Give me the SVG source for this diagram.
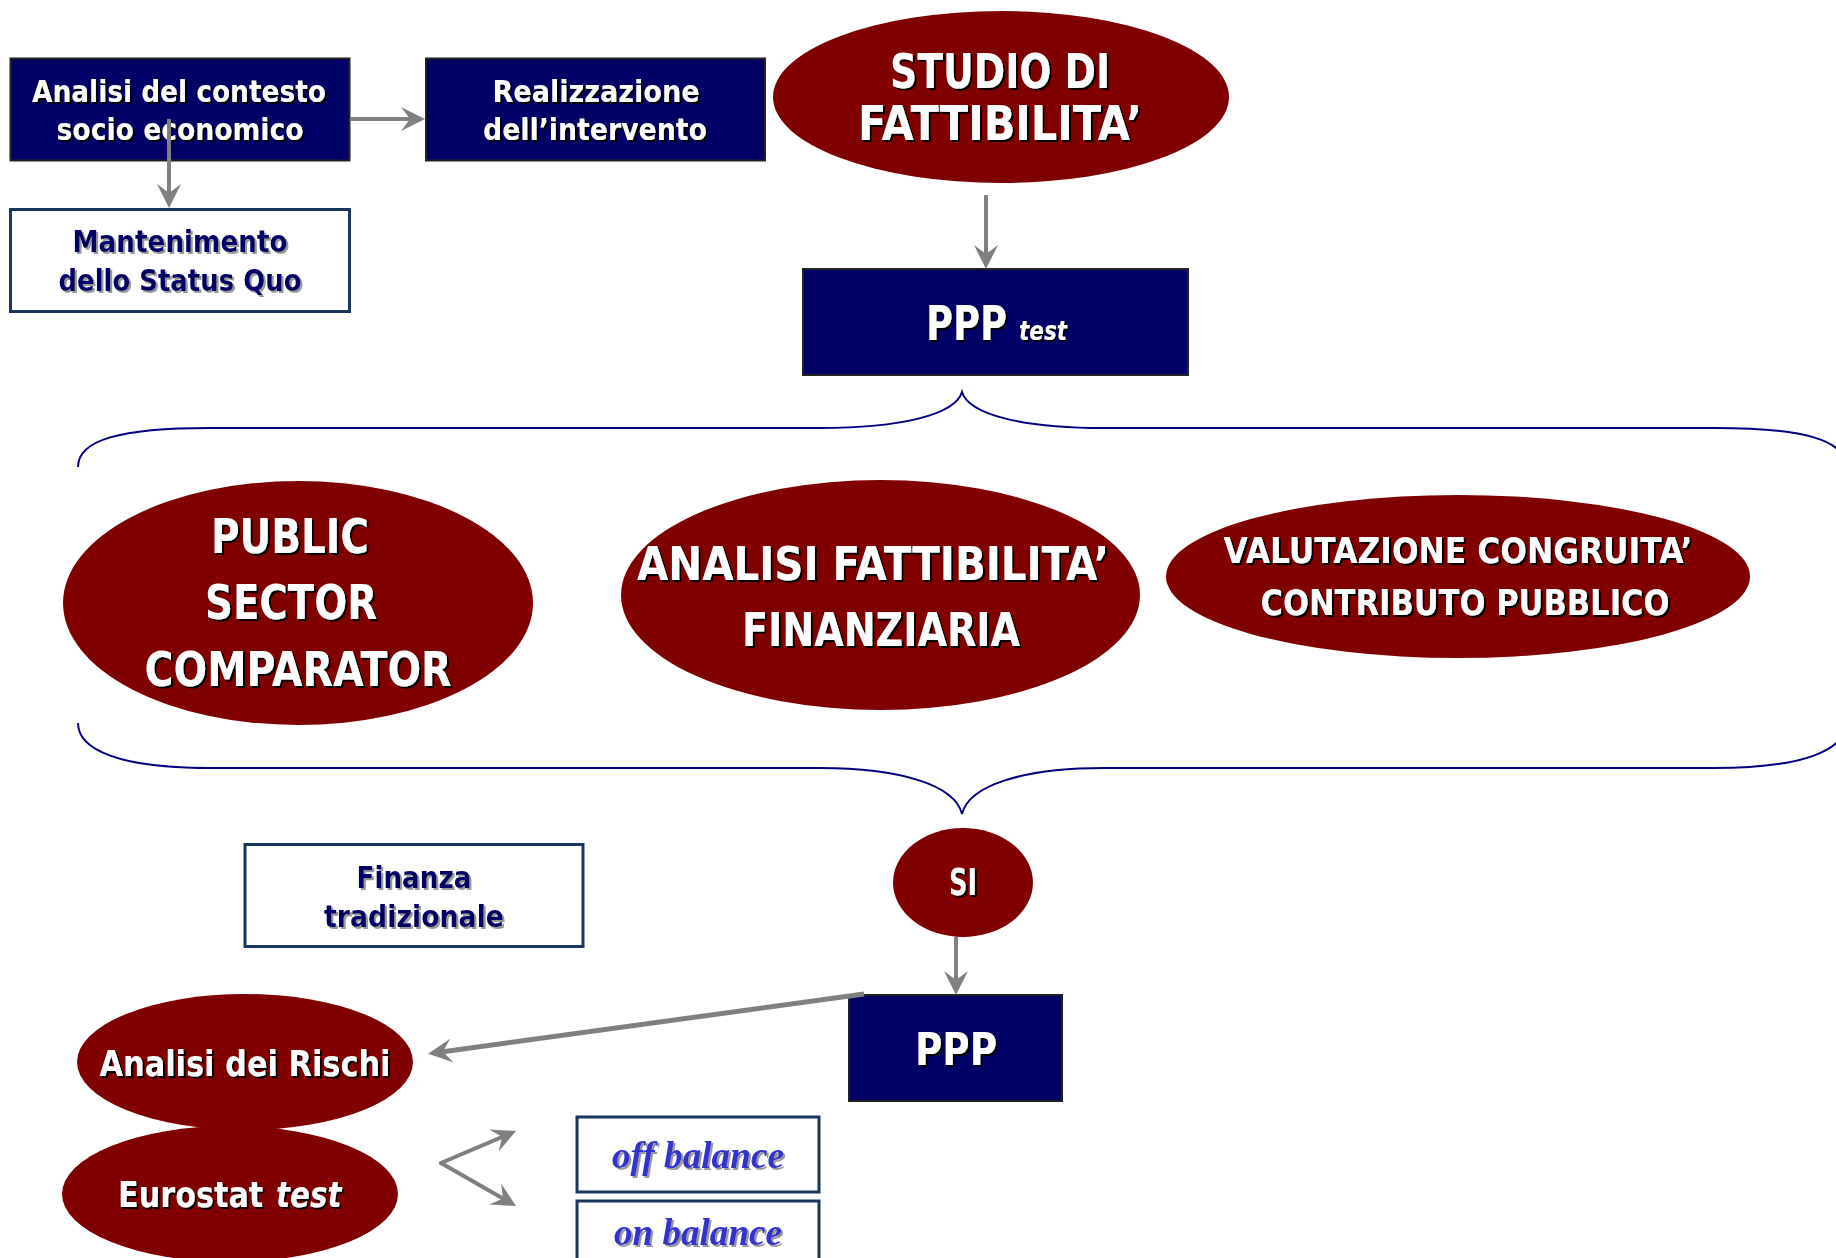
<svg xmlns="http://www.w3.org/2000/svg" width="1836" height="1258" viewBox="0 0 1836 1258">
<style>
.nb{fill:#000066;stroke:#222;stroke-width:2}
.wb{fill:#fff;stroke:#17375E;stroke-width:3}
.el{fill:#800000}
.wt{font-family:"DejaVu Sans","Liberation Sans",sans-serif;font-weight:bold;fill:#fff;text-anchor:middle;filter:url(#sh)}
.nt{font-family:"DejaVu Sans","Liberation Sans",sans-serif;font-weight:bold;fill:#000066;text-anchor:middle;filter:url(#shg)}
.bt{font-family:"Liberation Serif",serif;font-weight:bold;font-style:italic;fill:#3333CC;text-anchor:middle;filter:url(#shg)}
.ar{stroke:#808080;stroke-width:4;fill:none;marker-end:url(#ah)}
.br{stroke:#000080;stroke-width:2;fill:none}
</style>
<defs>
<filter id="sh" x="-10%" y="-20%" width="120%" height="140%"><feDropShadow dx="2" dy="2" stdDeviation="0.3" flood-color="#000" flood-opacity="1"/></filter>
<filter id="shg" x="-10%" y="-20%" width="120%" height="140%"><feDropShadow dx="2" dy="2" stdDeviation="0.4" flood-color="#999" flood-opacity="1"/></filter>
<marker id="ah" markerUnits="userSpaceOnUse" viewBox="0 0 24 24" markerWidth="24" markerHeight="24" refX="18" refY="12" orient="auto"><path d="M0,0 L24,12 L0,24 L9,12 z" fill="#808080"/></marker>
</defs>

<g id="braces">
<path class="br" d="M78,467 C78,440 120,428 210,428 L820,428 C900,428 955,415 962,392 C969,415 1024,428 1104,428 L1714,428 C1804,428 1846,440 1846,467"/>
<path class="br" d="M78,723 C78,750 120,768 210,768 L820,768 C900,768 955,785 962,814 C969,785 1024,768 1104,768 L1714,768 C1804,768 1846,750 1846,723"/>
</g>

<g id="analisi-contesto">
<rect class="nb" x="10.5" y="58.5" width="339" height="102"/>
<text class="wt" font-size="30"><tspan x="179" y="102" textLength="294" lengthAdjust="spacingAndGlyphs">Analisi del contesto</tspan><tspan x="180" y="140" textLength="247" lengthAdjust="spacingAndGlyphs">socio economico</tspan></text>
</g>

<g id="realizzazione">
<rect class="nb" x="426" y="58.5" width="339" height="102"/>
<text class="wt" font-size="30"><tspan x="596" y="102" textLength="207" lengthAdjust="spacingAndGlyphs">Realizzazione</tspan><tspan x="595" y="140" textLength="224" lengthAdjust="spacingAndGlyphs">dell’intervento</tspan></text>
</g>

<g id="mantenimento">
<rect class="wb" x="10.5" y="209.5" width="339" height="102"/>
<text class="nt" font-size="30"><tspan x="180" y="252" textLength="215" lengthAdjust="spacingAndGlyphs">Mantenimento</tspan><tspan x="180" y="291" textLength="243" lengthAdjust="spacingAndGlyphs">dello Status Quo</tspan></text>
</g>

<g id="studio">
<ellipse class="el" cx="1001" cy="97" rx="228" ry="86"/>
<text class="wt" font-size="48"><tspan x="1000" y="88" textLength="220" lengthAdjust="spacingAndGlyphs">STUDIO DI</tspan><tspan x="1000" y="140" textLength="284" lengthAdjust="spacingAndGlyphs">FATTIBILITA’</tspan></text>
</g>

<g id="ppp-test">
<rect class="nb" x="803" y="269" width="385" height="106"/>
<text class="wt" style="text-anchor:start" transform="translate(926,340) scale(0.77,1)" x="0" y="0" font-size="48" textLength="105" lengthAdjust="spacingAndGlyphs">PPP</text>
<text class="wt" style="text-anchor:start" transform="translate(1019,340) scale(0.83,1)" x="0" y="0" font-size="26" font-style="italic" textLength="58" lengthAdjust="spacingAndGlyphs">test</text>
</g>

<g id="psc">
<ellipse class="el" cx="298" cy="603" rx="235" ry="122"/>
<text class="wt" font-size="48"><tspan x="290" y="553" textLength="158" lengthAdjust="spacingAndGlyphs">PUBLIC</tspan><tspan x="291" y="619" textLength="172" lengthAdjust="spacingAndGlyphs">SECTOR</tspan><tspan x="298" y="686" textLength="307" lengthAdjust="spacingAndGlyphs">COMPARATOR</tspan></text>
</g>

<g id="analisi-fattibilita">
<ellipse class="el" cx="880.5" cy="595" rx="259.5" ry="115"/>
<text class="wt" font-size="46"><tspan x="873" y="580" textLength="472" lengthAdjust="spacingAndGlyphs">ANALISI FATTIBILITA’</tspan><tspan x="881" y="646" textLength="278" lengthAdjust="spacingAndGlyphs">FINANZIARIA</tspan></text>
</g>

<g id="valutazione">
<ellipse class="el" cx="1458" cy="576.5" rx="292" ry="81.5"/>
<text class="wt" font-size="36"><tspan x="1458" y="563" textLength="469" lengthAdjust="spacingAndGlyphs">VALUTAZIONE CONGRUITA’</tspan><tspan x="1465" y="615" textLength="409" lengthAdjust="spacingAndGlyphs">CONTRIBUTO PUBBLICO</tspan></text>
</g>

<g id="finanza">
<rect class="wb" x="245" y="844.5" width="338" height="102"/>
<text class="nt" font-size="30"><tspan x="414" y="888" textLength="115" lengthAdjust="spacingAndGlyphs">Finanza</tspan><tspan x="414" y="927" textLength="180" lengthAdjust="spacingAndGlyphs">tradizionale</tspan></text>
</g>

<g id="si">
<ellipse class="el" cx="963" cy="882.5" rx="70" ry="54.5"/>
<text class="wt" font-size="37" x="963" y="895" textLength="28" lengthAdjust="spacingAndGlyphs">SI</text>
</g>

<g id="ppp">
<rect class="nb" x="849" y="995" width="213" height="106"/>
<text class="wt" font-size="44" x="956" y="1065" textLength="82" lengthAdjust="spacingAndGlyphs">PPP</text>
</g>

<g id="rischi">
<ellipse class="el" cx="245" cy="1062" rx="168" ry="68"/>
<text class="wt" font-size="36" x="245" y="1076" textLength="291" lengthAdjust="spacingAndGlyphs">Analisi dei Rischi</text>
</g>

<g id="eurostat">
<ellipse class="el" cx="230" cy="1194" rx="168" ry="68"/>
<text class="wt" style="text-anchor:start" transform="translate(118,1207) scale(0.84,1)" x="0" y="0" font-size="36" textLength="173" lengthAdjust="spacingAndGlyphs">Eurostat</text>
<text class="wt" style="text-anchor:start" transform="translate(276,1207) scale(0.82,1)" x="0" y="0" font-size="36" font-style="italic" textLength="80" lengthAdjust="spacingAndGlyphs">test</text>
</g>

<g id="off-balance">
<rect class="wb" x="577" y="1117" width="242" height="75"/>
<text class="bt" font-size="37" x="698" y="1168" textLength="172" lengthAdjust="spacingAndGlyphs">off balance</text>
</g>

<g id="on-balance">
<rect class="wb" x="577" y="1201" width="242" height="75"/>
<text class="bt" font-size="37" x="698" y="1245" textLength="168" lengthAdjust="spacingAndGlyphs">on balance</text>
</g>

<g id="connectors">
<line class="ar" x1="350" y1="119" x2="419" y2="119"/>
<line class="ar" x1="169" y1="119" x2="169" y2="202"/>
<line class="ar" x1="986" y1="195" x2="986" y2="263"/>
<line class="ar" x1="956" y1="937" x2="956" y2="989"/>
<line class="ar" style="stroke-width:5" x1="864" y1="994" x2="434" y2="1053"/>
<line class="ar" style="stroke-linecap:round" x1="441" y1="1163" x2="510.5" y2="1133.4"/>
<line class="ar" style="stroke-linecap:round" x1="441" y1="1163" x2="510.8" y2="1203"/>
</g>
</svg>
